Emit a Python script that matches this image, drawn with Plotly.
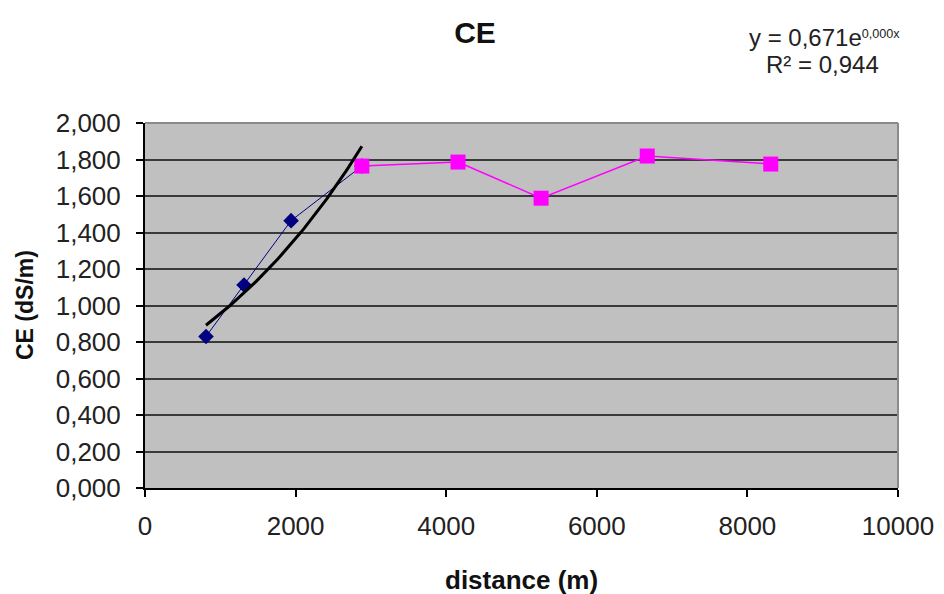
import numpy as np
import plotly.graph_objects as go

# Data
blue_x = [810, 1315, 1940, 2880]
blue_y = [0.830, 1.112, 1.465, 1.764]
pink_x = [2880, 4157, 5260, 6670, 8310]
pink_y = [1.764, 1.786, 1.588, 1.819, 1.775]

x_ticks = [0, 2000, 4000, 6000, 8000, 10000]
x_ticktext = ["0", "2000", "4000", "6000", "8000", "10000"]
y_ticks = [0.0, 0.2, 0.4, 0.6, 0.8, 1.0, 1.2, 1.4, 1.6, 1.8, 2.0]
y_ticktext = ["0,000", "0,200", "0,400", "0,600", "0,800", "1,000",
              "1,200", "1,400", "1,600", "1,800", "2,000"]

# Exponential trendline fitted on the blue series
b, ln_a = np.polyfit(np.array(blue_x, float), np.log(blue_y), 1)
tx = np.linspace(min(blue_x), max(blue_x), 60)
ty = np.exp(ln_a) * np.exp(b * tx)

font = "Liberation Sans, Arial, sans-serif"

fig = go.Figure()
fig.add_trace(go.Scatter(x=blue_x, y=blue_y, mode="lines+markers",
                         line=dict(color="#000080", width=1),
                         marker=dict(symbol="diamond", size=12, color="#000080"),
                         showlegend=False))
fig.add_trace(go.Scatter(x=pink_x, y=pink_y, mode="lines+markers",
                         line=dict(color="#FF00FF", width=1.5),
                         marker=dict(symbol="square", size=15, color="#FF00FF"),
                         showlegend=False))
fig.add_trace(go.Scatter(x=tx, y=ty, mode="lines",
                         line=dict(color="black", width=3),
                         showlegend=False))

fig.update_layout(
    width=944, height=594,
    margin=dict(l=145, r=46, t=123, b=106),
    paper_bgcolor="white", plot_bgcolor="#C0C0C0",
    font=dict(family=font, color="#222222", size=26),
    title=dict(text="<b>CE</b>", x=475 / 944, xanchor="center", xref="container",
               y=0.945, yanchor="middle", yref="container",
               font=dict(size=30, color="#111111", family=font)),
    xaxis=dict(range=[0, 10000], tickvals=x_ticks, ticktext=x_ticktext,
               showgrid=False, zeroline=False, showline=True, automargin=False,
               linecolor="black", linewidth=2, ticks="outside", ticklen=7,
               tickcolor="black", tickwidth=1.5, ticklabelstandoff=7,
               tickfont=dict(size=26, color="#222222")),
    yaxis=dict(range=[0, 2.0], tickvals=y_ticks, ticktext=y_ticktext,
               showgrid=True, gridcolor="#3a3a3a", gridwidth=2, automargin=False,
               zeroline=False, showline=True, linecolor="black", linewidth=2,
               ticks="outside", ticklen=7, tickcolor="black", tickwidth=1.5,
               ticklabelstandoff=10,
               tickfont=dict(size=26, color="#222222")),
    shapes=[dict(type="line", xref="paper", yref="paper", x0=0, x1=1, y0=1, y1=1,
                 line=dict(color="#8a8a8a", width=2), layer="above"),
            dict(type="line", xref="paper", yref="paper", x0=1, x1=1, y0=0, y1=1,
                 line=dict(color="#8a8a8a", width=2), layer="above")],
)

# Text placed at pixel positions converted to paper coords
pw = 944 - 145 - 46
ph = 594 - 123 - 106


def px2paper(px, py):
    return (px - 145) / pw, (594 - 106 - py) / ph


anns = []
eq = [("y = 0,671e<span style='font-size:18px'><sup>0,000x</sup></span>", 824, 38),
      ("R² = 0,944", 822, 64)]
for t, px, py in eq:
    x, y = px2paper(px, py)
    anns.append(dict(text=t, xref="paper", yref="paper", x=x, y=y,
                     xanchor="center", yanchor="middle", showarrow=False,
                     font=dict(size=24, color="#222222")))
x, y = px2paper(521, 580)
anns.append(dict(text="<b>distance (m)</b>", xref="paper", yref="paper", x=x, y=y,
                 xanchor="center", yanchor="middle", showarrow=False,
                 font=dict(size=26, color="#111111")))
x, y = px2paper(25, 305)
anns.append(dict(text="<b>CE (dS/m)</b>", xref="paper", yref="paper", x=x, y=y,
                 xanchor="center", yanchor="middle", showarrow=False, textangle=-90,
                 font=dict(size=23, color="#111111")))
fig.update_layout(annotations=anns)

fig.write_html("out.html")
